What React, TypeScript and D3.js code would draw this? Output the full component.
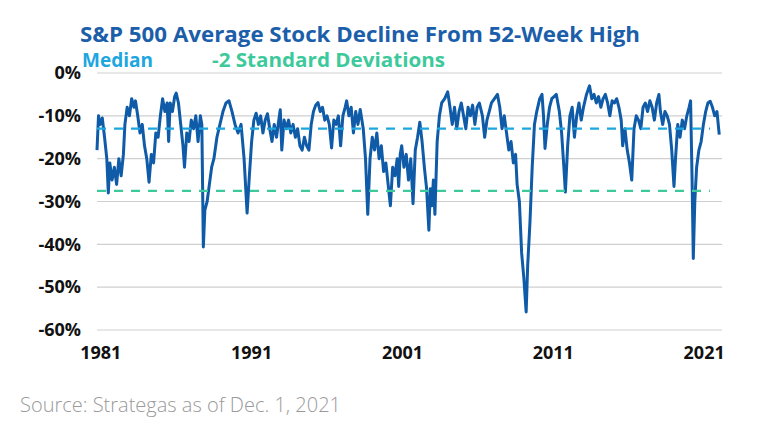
import { useEffect } from "react";
import * as d3 from "d3";

const W = 770;
const H = 437;

const Y_TICKS = [0, -10, -20, -30, -40, -50, -60];
const X_TICKS = [1981, 1991, 2001, 2011, 2021];
const MEDIAN = -13;
const MINUS_2SD = -27.5;

// [year, % below 52-week high]
const SERIES: [number, number][] = [
  [1980.75, -18], [1980.85, -10], [1980.95, -12], [1981.1, -10.5], [1981.25, -15], [1981.4, -20], [1981.5, -28],
  [1981.6, -21], [1981.75, -25], [1981.9, -22], [1982.05, -26], [1982.2, -20], [1982.35, -24], [1982.5, -19],
  [1982.6, -12], [1982.75, -8], [1982.9, -10], [1983.05, -6], [1983.2, -8], [1983.3, -6.5], [1983.45, -10],
  [1983.6, -14], [1983.75, -12], [1983.9, -17], [1984.05, -20], [1984.2, -25.5], [1984.35, -19], [1984.5, -21],
  [1984.65, -14], [1984.8, -15], [1984.95, -10], [1985.1, -6], [1985.25, -9], [1985.4, -7], [1985.5, -16],
  [1985.6, -7], [1985.75, -9], [1985.9, -5.5], [1986.0, -4.7], [1986.15, -7], [1986.3, -12], [1986.45, -17],
  [1986.55, -22], [1986.7, -14], [1986.85, -16], [1987.0, -11], [1987.15, -13], [1987.3, -10], [1987.45, -16],
  [1987.6, -10], [1987.7, -12], [1987.8, -40.6], [1987.9, -32], [1988.05, -30], [1988.2, -26], [1988.35, -22],
  [1988.5, -20], [1988.7, -15], [1988.9, -12], [1989.1, -9], [1989.3, -7], [1989.5, -6.5], [1989.7, -9],
  [1989.9, -12], [1990.1, -14], [1990.3, -12], [1990.5, -20], [1990.7, -32.7], [1990.85, -24], [1991.0, -16],
  [1991.15, -11], [1991.3, -9.4], [1991.45, -12], [1991.6, -10], [1991.75, -14], [1991.9, -11], [1992.05, -9.5],
  [1992.2, -13], [1992.35, -16], [1992.5, -12], [1992.65, -15], [1992.8, -11], [1992.9, -8.6], [1993.0, -18],
  [1993.15, -11], [1993.3, -13], [1993.45, -11], [1993.6, -14], [1993.75, -12], [1993.9, -15], [1994.05, -13],
  [1994.2, -17], [1994.35, -18], [1994.5, -15], [1994.65, -17], [1994.8, -18], [1994.95, -12], [1995.1, -9],
  [1995.25, -7.5], [1995.4, -6.9], [1995.55, -9], [1995.7, -8], [1995.85, -11], [1996.0, -10], [1996.15, -12],
  [1996.3, -17.5], [1996.45, -11], [1996.6, -12], [1996.75, -10], [1996.9, -17], [1997.05, -10], [1997.2, -8],
  [1997.3, -6.5], [1997.45, -10], [1997.6, -8], [1997.75, -14], [1997.9, -9], [1998.05, -12], [1998.2, -8.5],
  [1998.4, -13], [1998.55, -20], [1998.7, -33], [1998.85, -20], [1999.0, -15], [1999.15, -18], [1999.3, -14],
  [1999.45, -20], [1999.6, -17], [1999.75, -23], [1999.9, -21], [2000.05, -26], [2000.2, -31], [2000.35, -22],
  [2000.5, -24], [2000.65, -20], [2000.75, -26.5], [2000.85, -19], [2000.95, -17], [2001.1, -22], [2001.25, -19],
  [2001.4, -25], [2001.55, -20], [2001.7, -30.5], [2001.85, -18], [2002.0, -15], [2002.15, -11.5], [2002.3, -16],
  [2002.45, -22], [2002.6, -27], [2002.75, -36.7], [2002.85, -27], [2002.95, -31], [2003.05, -25], [2003.15, -33],
  [2003.3, -16], [2003.45, -10], [2003.6, -7], [2003.8, -6], [2004.0, -4.4], [2004.15, -8], [2004.3, -12],
  [2004.45, -8], [2004.6, -13], [2004.75, -9], [2004.9, -7], [2005.05, -10], [2005.2, -13], [2005.35, -8],
  [2005.5, -10], [2005.65, -7.5], [2005.8, -12], [2005.95, -8], [2006.1, -7], [2006.3, -10], [2006.45, -15],
  [2006.6, -11], [2006.75, -9], [2006.9, -7], [2007.1, -6], [2007.3, -5], [2007.45, -8], [2007.6, -13],
  [2007.75, -10], [2007.9, -14], [2008.05, -18], [2008.2, -16], [2008.35, -21], [2008.5, -19], [2008.6, -26],
  [2008.75, -30], [2008.9, -42], [2009.05, -48], [2009.2, -55.8], [2009.3, -45], [2009.45, -35], [2009.6, -22],
  [2009.75, -12], [2009.9, -9], [2010.1, -6], [2010.25, -5], [2010.35, -10], [2010.45, -17.6], [2010.6, -12],
  [2010.75, -8], [2010.9, -6], [2011.05, -5.5], [2011.2, -5], [2011.4, -9], [2011.55, -14], [2011.7, -22],
  [2011.8, -27.8], [2011.95, -17], [2012.1, -10], [2012.25, -8], [2012.4, -15], [2012.55, -10], [2012.7, -7],
  [2012.85, -11], [2013.0, -8], [2013.2, -5], [2013.4, -3], [2013.55, -6], [2013.7, -5], [2013.85, -7],
  [2014.0, -5.5], [2014.15, -8], [2014.3, -6], [2014.45, -5], [2014.6, -7], [2014.75, -10], [2014.9, -6.5],
  [2015.05, -7], [2015.2, -6], [2015.35, -8], [2015.5, -11], [2015.6, -17], [2015.75, -13], [2015.9, -18],
  [2016.05, -21], [2016.2, -25], [2016.35, -13], [2016.5, -10], [2016.65, -11], [2016.8, -13], [2016.95, -8],
  [2017.1, -7], [2017.25, -9], [2017.4, -6.5], [2017.55, -8], [2017.7, -11], [2017.85, -7], [2018.0, -5],
  [2018.1, -9], [2018.25, -12], [2018.4, -9], [2018.55, -10], [2018.7, -12], [2018.85, -18], [2019.0, -26.5],
  [2019.1, -20], [2019.25, -12], [2019.4, -15], [2019.55, -11], [2019.7, -13], [2019.85, -10], [2020.0, -8],
  [2020.1, -6.5], [2020.2, -25], [2020.28, -43.3], [2020.38, -30], [2020.5, -22], [2020.65, -18], [2020.8, -16],
  [2020.95, -12], [2021.1, -9], [2021.25, -7], [2021.4, -6.6], [2021.55, -8], [2021.7, -10], [2021.85, -9],
  [2022.0, -14.4],
];

const BLUE = "#0f5ba7";
const MEDIAN_COLOR = "#1ea6e0";
const SD_COLOR = "#3dc99b";

export default function App() {
  useEffect(() => {
    document.body.style.margin = "0";
  }, []);

  const x = d3.scaleLinear().domain([1980.75, 2022.05]).range([97, 720]);
  const y = d3.scaleLinear().domain([0, -60]).range([73, 330]);
  const line = d3.line<[number, number]>().x(d => x(d[0])).y(d => y(d[1]));
  const font = "'Open Sans', 'Noto Sans', sans-serif";

  return (
    <svg width={W} height={H} style={{ display: "block", background: "#fff" }} fontFamily={font}>
      <text x={80} y={42} fill="#1b5ea9" fontSize={21} fontWeight={700} textLength={560} lengthAdjust="spacingAndGlyphs">
        S&amp;P 500 Average Stock Decline From 52-Week High
      </text>
      <text x={82} y={67} fill={MEDIAN_COLOR} fontSize={19} fontWeight={700}>Median</text>
      <text x={212} y={67} fill={SD_COLOR} fontSize={19} fontWeight={700} textLength={233} lengthAdjust="spacingAndGlyphs">-2 Standard Deviations</text>

      {Y_TICKS.map(t => (
        <g key={t}>
          <line x1={97} x2={722} y1={y(t)} y2={y(t)} stroke="#cfcfcf" strokeWidth={1.2} />
          <text x={81} y={y(t)} dy="0.35em" textAnchor="end" fontSize={18} fontWeight={700} fill="#111">
            {t}%
          </text>
        </g>
      ))}
      {X_TICKS.map(t => (
        <text key={t} x={x(t)} y={359} textAnchor="middle" fontSize={18} fontWeight={700} fill="#111">
          {t}
        </text>
      ))}

      <path d={line(SERIES) ?? ""} fill="none" stroke={BLUE} strokeWidth={3} strokeLinejoin="round" />

      <line x1={97} x2={710} y1={y(MEDIAN)} y2={y(MEDIAN)} stroke={MEDIAN_COLOR} strokeWidth={2.2} strokeDasharray="9 8" />
      <line x1={97} x2={710} y1={y(MINUS_2SD)} y2={y(MINUS_2SD)} stroke={SD_COLOR} strokeWidth={2.2} strokeDasharray="9 8" />

      <text x={20} y={412} fontSize={20} fill="#9a9a9a" fontWeight={300}>
        Source: Strategas as of Dec. 1, 2021
      </text>
    </svg>
  );
}
